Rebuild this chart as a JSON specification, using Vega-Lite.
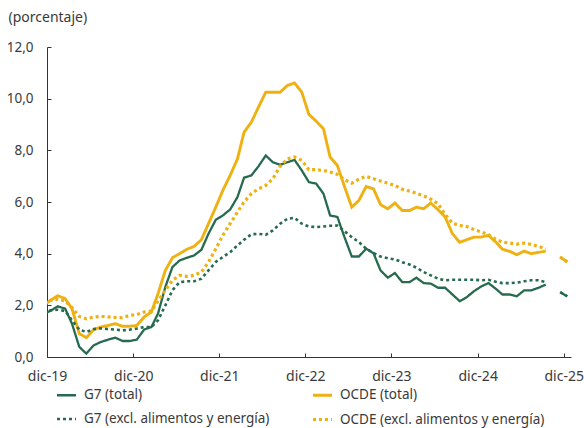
{
  "$schema": "https://vega.github.io/schema/vega-lite/v6.json",
  "width": 524,
  "height": 310,
  "autosize": {"type": "none"},
  "padding": {"left": 47, "top": 47, "right": 13, "bottom": 71},
  "background": "white",
  "config": {
    "view": {"stroke": null},
    "font": "Noto Sans",
    "axis": {"labelFont": "Noto Sans", "titleFont": "Noto Sans", "labelColor": "#3a3a3a", "titleColor": "#3a3a3a", "domainColor": "#333333", "tickColor": "#333333", "grid": false},
    "legend": {"labelFont": "Noto Sans", "labelColor": "#3a3a3a"}
  },
  "data": {
    "values": [
      {"d": "2019-11-16", "a": 1.66, "b": 1.98, "c": 1.75, "e": 2.15},
      {"d": "2019-12-16", "a": 1.79, "b": 2.2, "c": 1.81, "e": 2.19},
      {"d": "2020-01-16", "a": 1.96, "b": 2.37, "c": 1.83, "e": 2.24},
      {"d": "2020-02-16", "a": 1.87, "b": 2.26, "c": 1.78, "e": 2.17},
      {"d": "2020-03-16", "a": 1.29, "b": 1.87, "c": 1.42, "e": 1.91},
      {"d": "2020-04-16", "a": 0.39, "b": 0.9, "c": 1.06, "e": 1.57},
      {"d": "2020-05-16", "a": 0.13, "b": 0.75, "c": 0.97, "e": 1.48},
      {"d": "2020-06-16", "a": 0.45, "b": 1.06, "c": 1.08, "e": 1.55},
      {"d": "2020-07-16", "a": 0.58, "b": 1.16, "c": 1.11, "e": 1.57},
      {"d": "2020-08-16", "a": 0.67, "b": 1.22, "c": 1.08, "e": 1.55},
      {"d": "2020-09-16", "a": 0.75, "b": 1.29, "c": 1.06, "e": 1.53},
      {"d": "2020-10-16", "a": 0.62, "b": 1.19, "c": 1.03, "e": 1.52},
      {"d": "2020-11-16", "a": 0.62, "b": 1.19, "c": 1.06, "e": 1.61},
      {"d": "2020-12-16", "a": 0.67, "b": 1.22, "c": 1.1, "e": 1.64},
      {"d": "2021-01-16", "a": 1.06, "b": 1.55, "c": 1.16, "e": 1.74},
      {"d": "2021-02-16", "a": 1.16, "b": 1.74, "c": 1.16, "e": 1.78},
      {"d": "2021-03-16", "a": 1.68, "b": 2.45, "c": 1.42, "e": 2.17},
      {"d": "2021-04-16", "a": 2.71, "b": 3.35, "c": 2.0, "e": 2.58},
      {"d": "2021-05-16", "a": 3.48, "b": 3.84, "c": 2.58, "e": 2.97},
      {"d": "2021-06-16", "a": 3.74, "b": 4.0, "c": 2.9, "e": 3.16},
      {"d": "2021-07-16", "a": 3.84, "b": 4.17, "c": 2.93, "e": 3.12},
      {"d": "2021-08-16", "a": 3.93, "b": 4.28, "c": 2.93, "e": 3.16},
      {"d": "2021-09-16", "a": 4.15, "b": 4.54, "c": 3.03, "e": 3.29},
      {"d": "2021-10-16", "a": 4.77, "b": 5.16, "c": 3.35, "e": 3.67},
      {"d": "2021-11-16", "a": 5.31, "b": 5.8, "c": 3.68, "e": 4.19},
      {"d": "2021-12-16", "a": 5.48, "b": 6.45, "c": 3.87, "e": 4.71},
      {"d": "2022-01-16", "a": 5.71, "b": 7.03, "c": 4.06, "e": 5.16},
      {"d": "2022-02-16", "a": 6.19, "b": 7.67, "c": 4.32, "e": 5.61},
      {"d": "2022-03-16", "a": 6.94, "b": 8.7, "c": 4.54, "e": 6.0},
      {"d": "2022-04-16", "a": 7.03, "b": 9.09, "c": 4.75, "e": 6.32},
      {"d": "2022-05-16", "a": 7.38, "b": 9.67, "c": 4.77, "e": 6.51},
      {"d": "2022-06-16", "a": 7.8, "b": 10.25, "c": 4.73, "e": 6.64},
      {"d": "2022-07-16", "a": 7.54, "b": 10.25, "c": 4.9, "e": 6.9},
      {"d": "2022-08-16", "a": 7.44, "b": 10.25, "c": 5.16, "e": 7.38},
      {"d": "2022-09-16", "a": 7.54, "b": 10.51, "c": 5.35, "e": 7.67},
      {"d": "2022-10-16", "a": 7.63, "b": 10.61, "c": 5.39, "e": 7.74},
      {"d": "2022-11-16", "a": 7.22, "b": 10.25, "c": 5.16, "e": 7.61},
      {"d": "2022-12-16", "a": 6.77, "b": 9.39, "c": 5.05, "e": 7.25},
      {"d": "2023-01-16", "a": 6.71, "b": 9.13, "c": 5.03, "e": 7.25},
      {"d": "2023-02-16", "a": 6.32, "b": 8.83, "c": 5.05, "e": 7.22},
      {"d": "2023-03-16", "a": 5.48, "b": 7.74, "c": 5.08, "e": 7.16},
      {"d": "2023-04-16", "a": 5.42, "b": 7.41, "c": 5.09, "e": 7.07},
      {"d": "2023-05-16", "a": 4.64, "b": 6.6, "c": 4.87, "e": 6.86},
      {"d": "2023-06-16", "a": 3.89, "b": 5.8, "c": 4.64, "e": 6.73},
      {"d": "2023-07-16", "a": 3.89, "b": 6.06, "c": 4.45, "e": 6.89},
      {"d": "2023-08-16", "a": 4.19, "b": 6.6, "c": 4.19, "e": 6.99},
      {"d": "2023-09-16", "a": 4.02, "b": 6.51, "c": 4.02, "e": 6.9},
      {"d": "2023-10-16", "a": 3.35, "b": 5.9, "c": 3.89, "e": 6.81},
      {"d": "2023-11-16", "a": 3.07, "b": 5.74, "c": 3.82, "e": 6.73},
      {"d": "2023-12-16", "a": 3.25, "b": 5.96, "c": 3.78, "e": 6.64},
      {"d": "2024-01-16", "a": 2.9, "b": 5.67, "c": 3.67, "e": 6.49},
      {"d": "2024-02-16", "a": 2.9, "b": 5.67, "c": 3.58, "e": 6.42},
      {"d": "2024-03-16", "a": 3.07, "b": 5.8, "c": 3.46, "e": 6.34},
      {"d": "2024-04-16", "a": 2.86, "b": 5.74, "c": 3.29, "e": 6.24},
      {"d": "2024-05-16", "a": 2.84, "b": 5.96, "c": 3.16, "e": 6.11},
      {"d": "2024-06-16", "a": 2.68, "b": 5.7, "c": 3.03, "e": 5.93},
      {"d": "2024-07-16", "a": 2.68, "b": 5.42, "c": 2.97, "e": 5.52},
      {"d": "2024-08-16", "a": 2.42, "b": 4.77, "c": 2.99, "e": 5.18},
      {"d": "2024-09-16", "a": 2.16, "b": 4.44, "c": 2.99, "e": 5.09},
      {"d": "2024-10-16", "a": 2.32, "b": 4.54, "c": 2.99, "e": 5.05},
      {"d": "2024-11-16", "a": 2.55, "b": 4.64, "c": 2.99, "e": 4.93},
      {"d": "2024-12-16", "a": 2.73, "b": 4.64, "c": 2.97, "e": 4.84},
      {"d": "2025-01-16", "a": 2.86, "b": 4.71, "c": 2.99, "e": 4.73},
      {"d": "2025-02-16", "a": 2.64, "b": 4.45, "c": 2.91, "e": 4.55},
      {"d": "2025-03-16", "a": 2.42, "b": 4.17, "c": 2.86, "e": 4.45},
      {"d": "2025-04-16", "a": 2.42, "b": 4.09, "c": 2.86, "e": 4.41},
      {"d": "2025-05-16", "a": 2.35, "b": 3.96, "c": 2.88, "e": 4.37},
      {"d": "2025-06-16", "a": 2.58, "b": 4.1, "c": 2.93, "e": 4.41},
      {"d": "2025-07-16", "a": 2.58, "b": 4.0, "c": 2.97, "e": 4.36},
      {"d": "2025-08-16", "a": 2.68, "b": 4.05, "c": 2.97, "e": 4.28},
      {"d": "2025-09-16", "a": 2.8, "b": 4.1, "c": 2.9, "e": 4.19},
      {"d": "2025-10-16", "a": null, "b": null, "c": null, "e": null},
      {"d": "2025-11-16", "a": 2.51, "b": 3.87, "c": 2.51, "e": 3.87},
      {"d": "2025-12-16", "a": 2.35, "b": 3.68, "c": 2.35, "e": 3.68}
    ]
  },
  "transform": [
    {"fold": ["a", "b", "c", "e"], "as": ["serie", "v"]}
  ],
  "mark": {"type": "line", "clip": true, "invalid": "break-paths-show-domains", "strokeCap": "butt"},
  "encoding": {
    "x": {
      "field": "d",
      "type": "temporal",
      "scale": {"type": "utc", "domain": [{"year": 2019, "month": 12, "date": 1, "utc": true}, {"year": 2026, "month": 1, "date": 1, "utc": true}]},
      "axis": {
        "title": null,
        "values": [
          {"year": 2019, "month": 12, "date": 1, "utc": true},
          {"year": 2020, "month": 12, "date": 1, "utc": true},
          {"year": 2021, "month": 12, "date": 1, "utc": true},
          {"year": 2022, "month": 12, "date": 1, "utc": true},
          {"year": 2023, "month": 12, "date": 1, "utc": true},
          {"year": 2024, "month": 12, "date": 1, "utc": true},
          {"year": 2025, "month": 12, "date": 1, "utc": true}
        ],
        "labelExpr": "'dic-' + utcFormat(datum.value, '%y')",
        "tickSize": -4,
        "labelPadding": 16,
        "labelFontSize": 14,
        "labelFlush": false,
        "labelOverlap": false
      }
    },
    "y": {
      "field": "v",
      "type": "quantitative",
      "scale": {"domain": [0, 12], "nice": false, "zero": true},
      "axis": {
        "values": [0, 2, 4, 6, 8, 10, 12],
        "labelExpr": "replace(format(datum.value, '.1f'), '.', ',')",
        "tickSize": -4,
        "labelPadding": 18,
        "labelFontSize": 13.5,
        "title": "(porcentaje)",
        "titleAngle": 0,
        "titleAlign": "left",
        "titleBaseline": "middle",
        "titleX": -39,
        "titleY": -30,
        "titleFontSize": 14,
        "titleFontWeight": "normal"
      }
    },
    "color": {
      "field": "serie",
      "type": "nominal",
      "scale": {"domain": ["a", "c", "b", "e"], "range": ["#266b50", "#266b50", "#eeb111", "#eeb111"]},
      "legend": {
        "title": null,
        "orient": "none",
        "legendX": 8,
        "legendY": 337,
        "columns": 2,
        "columnPadding": 36,
        "rowPadding": 6,
        "symbolType": "stroke",
        "symbolSize": 361,
        "labelOffset": 6,
        "labelFontSize": 13.5,
        "labelLimit": 300,
        "labelExpr": "datum.value == 'a' ? 'G7 (total)' : datum.value == 'b' ? 'OCDE (total)' : datum.value == 'c' ? 'G7 (excl. alimentos y energía)' : 'OCDE (excl. alimentos y energía)'"
      }
    },
    "strokeDash": {
      "field": "serie",
      "type": "nominal",
      "scale": {"domain": ["a", "c", "b", "e"], "range": [[1, 0], [3, 3], [1, 0], [3, 3]]},
      "legend": null
    },
    "strokeWidth": {
      "field": "serie",
      "type": "nominal",
      "scale": {"domain": ["a", "c", "b", "e"], "range": [2.3, 3.2, 2.3, 3.2]},
      "legend": null
    }
  }
}
